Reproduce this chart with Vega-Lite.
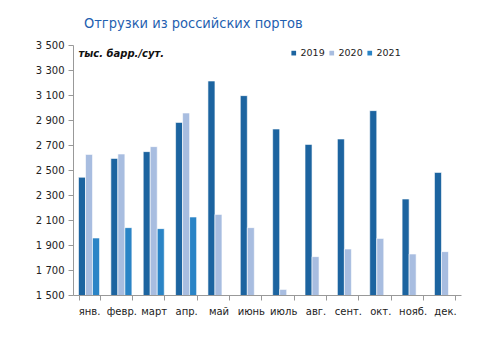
{
  "$schema": "https://vega.github.io/schema/vega-lite/v6.json",
  "autosize": {"type": "none"},
  "width": 388,
  "height": 250,
  "padding": {"left": 73, "top": 45, "right": 39, "bottom": 58},
  "background": "white",
  "title": {
    "text": "Отгрузки из российских портов",
    "anchor": "start",
    "frame": "group",
    "dx": 11,
    "fontSize": 14.5,
    "fontWeight": "normal",
    "font": "DejaVu Sans Condensed",
    "color": "#1f5fb0",
    "offset": 9
  },
  "data": {
    "values": [
      {"m": "янв.", "y": "2019", "v": 2442},
      {"m": "янв.", "y": "2020", "v": 2625},
      {"m": "янв.", "y": "2021", "v": 1956},
      {"m": "февр.", "y": "2019", "v": 2593},
      {"m": "февр.", "y": "2020", "v": 2628},
      {"m": "февр.", "y": "2021", "v": 2039},
      {"m": "март", "y": "2019", "v": 2647},
      {"m": "март", "y": "2020", "v": 2687},
      {"m": "март", "y": "2021", "v": 2031},
      {"m": "апр.", "y": "2019", "v": 2881},
      {"m": "апр.", "y": "2020", "v": 2956},
      {"m": "апр.", "y": "2021", "v": 2124},
      {"m": "май", "y": "2019", "v": 3212},
      {"m": "май", "y": "2020", "v": 2145},
      {"m": "июнь", "y": "2019", "v": 3095},
      {"m": "июнь", "y": "2020", "v": 2039},
      {"m": "июль", "y": "2019", "v": 2828},
      {"m": "июль", "y": "2020", "v": 1545},
      {"m": "авг.", "y": "2019", "v": 2705},
      {"m": "авг.", "y": "2020", "v": 1807},
      {"m": "сент.", "y": "2019", "v": 2748},
      {"m": "сент.", "y": "2020", "v": 1868},
      {"m": "окт.", "y": "2019", "v": 2975},
      {"m": "окт.", "y": "2020", "v": 1953},
      {"m": "нояб.", "y": "2019", "v": 2268},
      {"m": "нояб.", "y": "2020", "v": 1828},
      {"m": "дек.", "y": "2019", "v": 2481},
      {"m": "дек.", "y": "2020", "v": 1847}
    ]
  },
  "mark": {"type": "bar", "stroke": "white", "strokeWidth": 0.6, "clip": true},
  "encoding": {
    "x": {
      "field": "m",
      "type": "nominal",
      "sort": ["янв.", "февр.", "март", "апр.", "май", "июнь", "июль", "авг.", "сент.", "окт.", "нояб.", "дек."],
      "scale": {"paddingInner": 0.35, "paddingOuter": 0.17},
      "axis": {
        "title": null,
        "labelAngle": 0,
        "labelFont": "DejaVu Sans",
        "labelFontSize": 10,
        "labelColor": "#222",
        "labelPadding": 6,
        "tickBand": "extent",
        "domainColor": "#999",
        "tickColor": "#999",
        "tickSize": 5
      }
    },
    "xOffset": {"field": "y", "type": "nominal", "scale": {"domain": ["2019", "2020", "2021"], "paddingInner": 0, "paddingOuter": 0}},
    "y": {
      "field": "v",
      "type": "quantitative",
      "scale": {"domain": [1500, 3500], "zero": false, "nice": false},
      "axis": {
        "values": [1500, 1700, 1900, 2100, 2300, 2500, 2700, 2900, 3100, 3300, 3500],
        "labelExpr": "replace(format(datum.value, ','), ',', ' ')",
        "grid": false,
        "labelFont": "DejaVu Sans",
        "labelFontSize": 10,
        "labelColor": "#222",
        "labelPadding": 4,
        "domainColor": "#999",
        "tickColor": "#999",
        "tickSize": 5,
        "title": "тыс. барр./сут.",
        "titleAngle": 0,
        "titleX": 5,
        "titleY": 8,
        "titleAlign": "left",
        "titleBaseline": "middle",
        "titleFont": "DejaVu Sans",
        "titleFontSize": 10,
        "titleFontStyle": "italic",
        "titleFontWeight": "bold",
        "titleColor": "#111"
      }
    },
    "color": {
      "field": "y",
      "type": "nominal",
      "scale": {"domain": ["2019", "2020", "2021"], "range": ["#1c64a0", "#a8bde0", "#2a84c6"]},
      "legend": {
        "title": null,
        "orient": "none",
        "direction": "horizontal",
        "legendX": 216,
        "legendY": 3,
        "symbolType": "square",
        "symbolSize": 22,
        "symbolStrokeWidth": 0,
        "labelFont": "DejaVu Sans",
        "labelFontSize": 9.5,
        "labelColor": "#222",
        "labelOffset": 2,
        "columnPadding": 2
      }
    }
  },
  "config": {"view": {"stroke": null}}
}
